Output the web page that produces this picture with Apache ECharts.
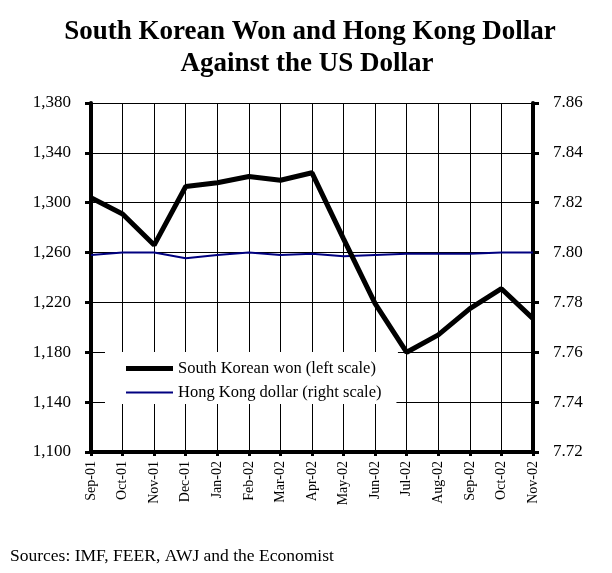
<!DOCTYPE html>
<html>
<head>
<meta charset="utf-8">
<script src="https://cdn.jsdelivr.net/npm/echarts@6/dist/echarts.min.js"></script>
<style>
  html, body { margin: 0; padding: 0; background: #fff; }
  #chart { width: 612px; height: 573px; }
</style>
</head>
<body>
<div id="chart"></div>
<script>
// months on the x axis
var months = ['Sep-01', 'Oct-01', 'Nov-01', 'Dec-01', 'Jan-02', 'Feb-02', 'Mar-02', 'Apr-02',
  'May-02', 'Jun-02', 'Jul-02', 'Aug-02', 'Sep-02', 'Oct-02', 'Nov-02'];
// won per US$ (left scale)
var wonData = [1304, 1291, 1266, 1313, 1316, 1321, 1318, 1324, 1271, 1219, 1180, 1194, 1215, 1231, 1207];
// HK$ per US$ (right scale)
var hkdData = [7.799, 7.800, 7.800, 7.7977, 7.799, 7.800, 7.799, 7.7995, 7.7985, 7.799, 7.7995, 7.7995, 7.7995, 7.800, 7.800];

var wonName = 'South Korean won (left scale)';
var hkdName = 'Hong Kong dollar (right scale)';

var serif = '"Liberation Serif", "Times New Roman", serif';
var chart = echarts.init(document.getElementById('chart'));

var legendText = { fontFamily: serif, fontSize: 16.5, color: '#000' };

var option = {
  animation: false,
  backgroundColor: '#fff',
  title: [
    {
      text: 'South Korean Won and Hong Kong Dollar',
      left: 310, top: 19, padding: 0, textAlign: 'center',
      textStyle: { fontFamily: serif, fontSize: 27, fontWeight: 'bold', color: '#000' }
    },
    {
      text: 'Against the US Dollar',
      left: 307, top: 51, padding: 0, textAlign: 'center',
      textStyle: { fontFamily: serif, fontSize: 27, fontWeight: 'bold', color: '#000' }
    }
  ],
  grid: { left: 91, right: 79, top: 103, bottom: 121 },
  // two legends so each key line can have its own thickness
  legend: [
    {
      left: 105, top: 352,
      padding: [8, 22, 5, 21],
      backgroundColor: '#fff',
      icon: 'rect',
      itemWidth: 47, itemHeight: 5,
      textStyle: legendText,
      data: [wonName]
    },
    {
      left: 105, top: 380,
      padding: [4, 15, 3, 21],
      backgroundColor: '#fff',
      icon: 'rect',
      itemWidth: 47, itemHeight: 2,
      textStyle: legendText,
      data: [hkdName]
    }
  ],
  xAxis: {
    type: 'category',
    data: months,
    boundaryGap: false,
    axisLine: { lineStyle: { color: '#000', width: 4 } },
    axisTick: { length: 4, lineStyle: { color: '#000', width: 3 } },
    axisLabel: { rotate: 90, margin: 9, fontFamily: serif, fontSize: 14, color: '#000' },
    splitLine: { show: true, lineStyle: { color: '#000', width: 1 } }
  },
  yAxis: [
    {
      type: 'value',
      min: 1100, max: 1380, interval: 40,
      axisLine: { show: true, lineStyle: { color: '#000', width: 4 } },
      axisTick: { show: true, length: 6, lineStyle: { color: '#000', width: 3 } },
      axisLabel: {
        margin: 20, fontFamily: serif, fontSize: 17, color: '#000',
        formatter: function (v) { return v.toLocaleString('en-US'); }
      },
      splitLine: { show: true, lineStyle: { color: '#000', width: 1 } }
    },
    {
      type: 'value',
      min: 7.72, max: 7.86, interval: 0.02,
      position: 'right',
      axisLine: { show: true, lineStyle: { color: '#000', width: 4 } },
      axisTick: { show: true, length: 6, lineStyle: { color: '#000', width: 3 } },
      axisLabel: {
        margin: 20, fontFamily: serif, fontSize: 17, color: '#000',
        formatter: function (v) { return v.toFixed(2); }
      },
      splitLine: { show: false }
    }
  ],
  series: [
    {
      name: wonName,
      type: 'line',
      yAxisIndex: 0,
      data: wonData,
      symbol: 'none',
      lineStyle: { color: '#000', width: 5 },
      itemStyle: { color: '#000' },
      z: 3
    },
    {
      name: hkdName,
      type: 'line',
      yAxisIndex: 1,
      data: hkdData,
      symbol: 'none',
      lineStyle: { color: '#000080', width: 2 },
      itemStyle: { color: '#000080' },
      z: 2
    }
  ],
  graphic: [
    {
      type: 'text',
      left: 10, top: 547,
      style: { text: 'Sources: IMF, FEER, AWJ and the Economist', font: '17.5px ' + serif, fill: '#000' }
    }
  ]
};

chart.setOption(option);
</script>
</body>
</html>
